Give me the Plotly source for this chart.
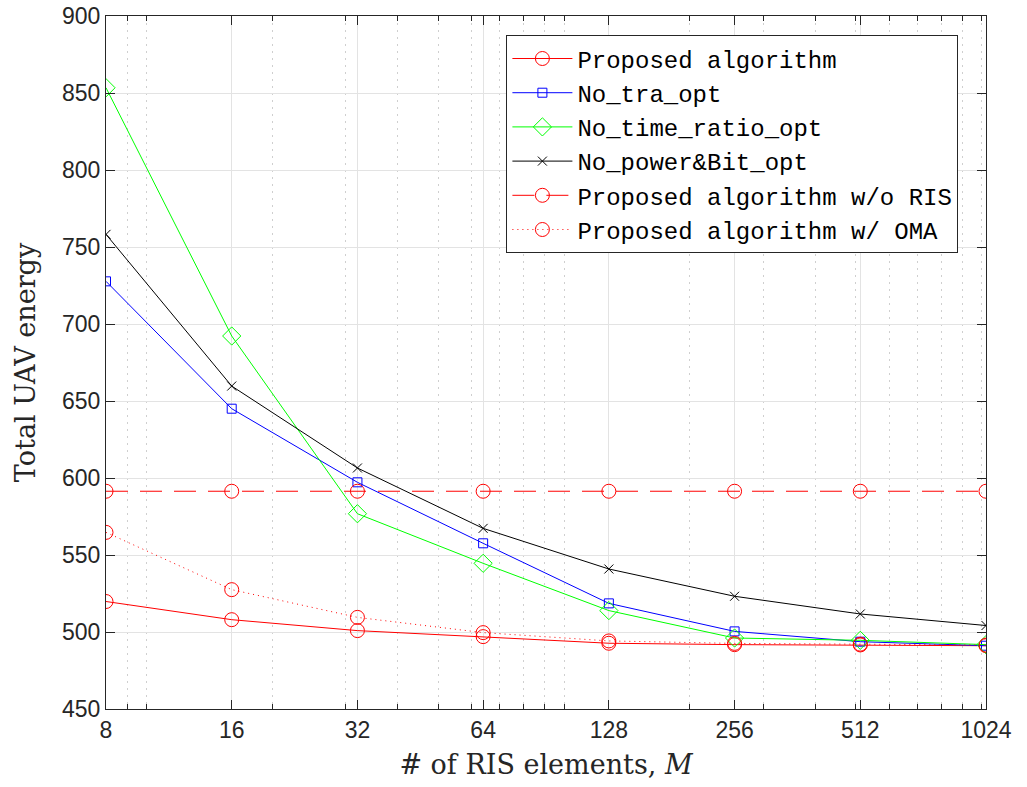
import plotly.graph_objects as go
import math

# ---- data ----
M = [8, 16, 32, 64, 128, 256, 512, 1024]
proposed = [519.8, 508.0, 500.9, 497.0, 492.7, 491.8, 491.6, 491.1]
no_tra_opt = [727.7, 645.0, 597.2, 557.6, 518.6, 500.4, 493.7, 491.1]
no_time_ratio_opt = [853.4, 692.2, 576.8, 544.6, 513.9, 496.1, 494.6, 491.8]
no_power_bit_opt = [758.2, 659.7, 606.5, 567.3, 540.9, 523.2, 511.7, 504.2]
wo_ris = [591.4, 591.4, 591.4, 591.4, 591.4, 591.4, 591.4, 591.4]
w_oma = [564.7, 527.5, 509.5, 499.6, 494.2, 492.6, 492.1, 491.5]

x_ticks = [8, 16, 32, 64, 128, 256, 512, 1024]
x_minor = [9, 10, 20, 30, 40, 50, 60, 70, 80, 90, 100, 200, 300, 400, 500,
           600, 700, 800, 900, 1000]

names = ["Proposed algorithm", "No_tra_opt", "No_time_ratio_opt",
         "No_power&Bit_opt", "Proposed algorithm w/o RIS",
         "Proposed algorithm w/ OMA"]

fig = go.Figure()

def add(y, name, color, symbol, msize, dash):
    fig.add_trace(go.Scatter(
        x=M, y=y, name=name, mode="lines+markers",
        line=dict(color=color, width=1, dash=dash),
        marker=dict(symbol=symbol, size=msize, color=color,
                    line=dict(color=color, width=1)),
    ))

add(proposed, names[0], "#ff0000", "circle-open", 14, "solid")
add(no_tra_opt, names[1], "#0000ff", "square-open", 9, "solid")
add(no_time_ratio_opt, names[2], "#00ff00", "diamond-open", 14, "solid")
add(no_power_bit_opt, names[3], "#000000", "x-thin-open", 9, "solid")
add(wo_ris, names[4], "#ff0000", "circle-open", 14, "22px,12px")
add(w_oma, names[5], "#ff0000", "circle-open", 14, "1px,4px")

axis_col = "#262626"
fig.update_layout(
    width=1027, height=787,
    margin=dict(l=106, r=41, t=16, b=78),
    paper_bgcolor="white", plot_bgcolor="white",
    showlegend=True,
    legend=dict(
        x=0.455, y=0.972, xanchor="left", yanchor="top",
        bgcolor="white", bordercolor=axis_col, borderwidth=1,
        font=dict(family="Liberation Mono", size=24, color="#000000"),
        itemwidth=60,
    ),
    xaxis=dict(
        type="log", range=[math.log10(8), math.log10(1024)],
        tickmode="array", tickvals=x_ticks, ticktext=[str(v) for v in x_ticks],
        ticks="inside", ticklen=9, tickwidth=1, tickcolor=axis_col,
        showline=True, linecolor=axis_col, linewidth=1, mirror="allticks",
        showgrid=True, gridcolor="#e3e3e3", gridwidth=1,
        zeroline=False,
        minor=dict(tickmode="array", tickvals=x_minor, ticks="inside",
                   ticklen=5, tickcolor=axis_col, showgrid=True,
                   gridcolor="#cfcfcf", griddash="2px,5px", gridwidth=1),
        tickfont=dict(family="Liberation Sans", size=23, color=axis_col),
        title=dict(text="# of RIS elements, <i>M</i>", standoff=13,
                   font=dict(family="DejaVu Serif", size=27, color=axis_col)),
        automargin=False,
    ),
    yaxis=dict(
        range=[450, 900], tickmode="linear", tick0=450, dtick=50,
        ticks="inside", ticklen=9, tickwidth=1, tickcolor=axis_col,
        showline=True, linecolor=axis_col, linewidth=1, mirror="allticks",
        showgrid=True, gridcolor="#e3e3e3", gridwidth=1,
        zeroline=False,
        tickfont=dict(family="Liberation Sans", size=23, color=axis_col),
        title=dict(text="Total UAV energy", standoff=18,
                   font=dict(family="DejaVu Serif", size=27, color=axis_col)),
        automargin=False,
    ),
)

fig.write_html("out.html",
               config={"displayModeBar": False},
               post_script="document.body.style.margin='0';")
